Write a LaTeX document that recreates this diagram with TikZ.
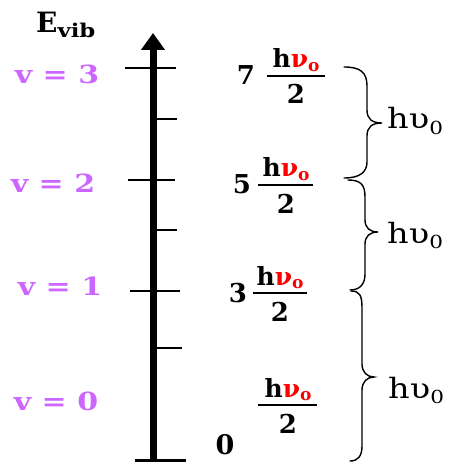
\documentclass[tikz,border=0pt]{standalone}
\usepackage{fontspec}
\setmainfont{DejaVu Serif}
\newfontfamily\widefont[FakeStretch=1.2]{DejaVu Serif}
\usetikzlibrary{arrows.meta}
\definecolor{vviolet}{RGB}{204,102,255}
\definecolor{hred}{RGB}{255,0,0}
\tikzset{
  tick/.style={line width=1.3pt},
  vlab/.style={text=vviolet,font=\fontsize{25}{25}\widefont\bfseries},
  coef/.style={font=\fontsize{26}{26}\selectfont\bfseries},
  numer/.style={font=\fontsize{25}{25}\selectfont\bfseries, anchor=base, inner sep=0pt},
  denom/.style={font=\fontsize{26}{26}\selectfont\bfseries, anchor=base, inner sep=0pt},
  fbar/.style={line width=1.6pt},
  hlab/.style={font=\fontsize{28}{28}\widefont, anchor=base west, inner sep=0pt},
  bracestyle/.style={line width=1.4pt, line cap=round}
}
\newcommand{\hnutext}{h\textcolor{hred}{ν\raisebox{-0.3ex}{\fontsize{17}{17}\selectfont o}}}
\newcommand{\hupstext}{hυ\raisebox{-0.35ex}{\fontsize{18}{18}\selectfont 0}}
\begin{document}
\begin{tikzpicture}[x=1pt,y=-1pt]
\useasboundingbox (0,0) rectangle (448,462);
% axis
\coordinate (bot) at (153,462);
\coordinate (top) at (153,33);
\draw[line width=7pt,-{Triangle[width=23pt,length=17pt]}] (bot) -- (top);
\coordinate (bl) at (135,460); \coordinate (br) at (186,460);
\draw[line width=3pt] (bl) -- (br);
% ticks
\coordinate (t3a) at (125,68); \coordinate (t3b) at (176,68);
\coordinate (s3a) at (153,119); \coordinate (s3b) at (177,119);
\coordinate (t2a) at (128,180); \coordinate (t2b) at (175,180);
\coordinate (s2a) at (153,230); \coordinate (s2b) at (177,230);
\coordinate (t1a) at (130,291); \coordinate (t1b) at (180,291);
\coordinate (s1a) at (153,348); \coordinate (s1b) at (182,348);
\draw[tick] (t3a) -- (t3b);
\draw[tick] (s3a) -- (s3b);
\draw[tick] (t2a) -- (t2b);
\draw[tick] (s2a) -- (s2b);
\draw[tick] (t1a) -- (t1b);
\draw[tick] (s1a) -- (s1b);
% labels
\node[font=\fontsize{28}{28}\selectfont\bfseries, anchor=base west, inner sep=0pt] (evib) at (36,33) {E\raisebox{-0.3ex}{\fontsize{19}{19}\widefont vib}};
\node[vlab] (v3) at (57,74) {v = 3};
\node[vlab] (v2) at (53,183) {v = 2};
\node[vlab] (v1) at (60,286) {v = 1};
\node[vlab] (v0) at (56,401) {v = 0};
% energies
\node[coef] (c7) at (246,75) {7};
\node[coef] (c5) at (242,184) {5};
\node[coef] (c3) at (238,293) {3};
\node[coef, font=\fontsize{27}{27}\selectfont\bfseries] (c0) at (225,445) {0};
% fractions
\coordinate (f7a) at (267,76); \coordinate (f7b) at (325,76);
\draw[fbar] (f7a) -- (f7b);
\node[numer] (n7) at (296,68) {\hnutext};
\node[denom] (d7) at (296,104) {2};
\coordinate (f5a) at (258,185); \coordinate (f5b) at (313,185);
\draw[fbar] (f5a) -- (f5b);
\node[numer] (n5) at (286,177) {\hnutext};
\node[denom] (d5) at (286,213) {2};
\coordinate (f3a) at (253,293); \coordinate (f3b) at (307,293);
\draw[fbar] (f3a) -- (f3b);
\node[numer] (n3) at (280,285) {\hnutext};
\node[denom] (d3) at (280,321) {2};
\coordinate (f0a) at (258,405); \coordinate (f0b) at (317,405);
\draw[fbar] (f0a) -- (f0b);
\node[numer] (n0) at (288,397) {\hnutext};
\node[denom] (d0) at (288,433) {2};
% braces
\coordinate (b1a) at (344,67); \coordinate (b1m) at (382,123); \coordinate (b1b) at (344,178);
\draw[bracestyle] (b1a) .. controls (360,67) and (367,72) .. (367,86)
  -- (367,110) .. controls (367,119) and (372,123) .. (b1m)
  .. controls (372,123) and (367,127) .. (367,136)
  -- (367,162) .. controls (367,172) and (360,178) .. (b1b);
\coordinate (b2a) at (348,180); \coordinate (b2m) at (378,232); \coordinate (b2b) at (350,290);
\draw[bracestyle] (b2a) .. controls (361,180) and (365,185) .. (365,197)
  -- (365,220) .. controls (365,228) and (370,232) .. (b2m)
  .. controls (370,232) and (365,236) .. (365,244)
  -- (365,274) .. controls (365,284) and (360,290) .. (b2b);
\coordinate (b3a) at (351,291); \coordinate (b3m) at (374,377); \coordinate (b3b) at (350,461);
\draw[bracestyle] (b3a) .. controls (360,291) and (362,296) .. (362,308)
  -- (362,364) .. controls (362,372) and (367,377) .. (b3m)
  .. controls (367,377) and (362,382) .. (362,390)
  -- (362,446) .. controls (362,456) and (358,461) .. (b3b);
\node[hlab] (h1) at (387,129) {\hupstext};
\node[hlab] (h2) at (387,243) {\hupstext};
\node[hlab] (h3) at (388,398) {\hupstext};
\end{tikzpicture}
\end{document}
